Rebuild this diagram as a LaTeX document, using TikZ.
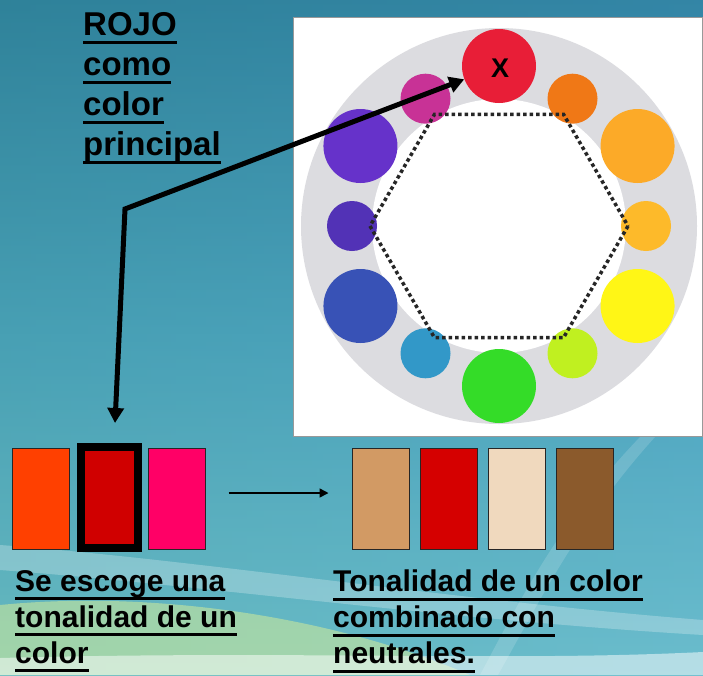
\documentclass[tikz,border=0pt]{standalone}
\usepackage{fontspec}
\setmainfont{Liberation Sans}
\usepackage{xcolor}
\usetikzlibrary{calc,arrows.meta}
\definecolor{fondoA}{RGB}{34,114,140}
\definecolor{fondoB}{RGB}{72,160,180}
\definecolor{fondoC}{RGB}{120,200,200}
\definecolor{cielo}{RGB}{84,170,215}
\definecolor{lima}{RGB}{220,240,150}
\definecolor{anillo}{RGB}{220,220,224}
\newcommand\subr[1]{\setbox0\hbox{#1}\rlap{\rule[-9pt]{\wd0}{3pt}}\box0}
\tikzset{swatch/.style={draw=black!85,line width=1pt,minimum width=57pt,minimum height=101pt,inner sep=0pt},
  chosen swatch/.style={swatch,draw=black,line width=8pt},
  big dot/.style={circle,minimum size=74pt,inner sep=0pt},
  small dot/.style={circle,minimum size=50pt,inner sep=0pt},
  caption text/.style={font=\fontsize{30}{36}\selectfont\bfseries,align=left,anchor=north west,inner sep=0pt},
  title text/.style={font=\fontsize{33}{40}\selectfont\bfseries,align=left,anchor=north west,inner sep=0pt},
  hex line/.style={draw=black!85,line width=3.5pt,dash pattern=on 3.5pt off 3pt},
  big arrow/.style={line width=5pt,line join=miter,{Triangle[width=16pt,length=15pt]}-{Triangle[width=16pt,length=15pt]}},
  small arrow/.style={line width=1.6pt,-{Triangle[width=9pt,length=9pt]}}}

\begin{document}
\begin{tikzpicture}[x=1pt,y=-1pt]
  \useasboundingbox (0,0) rectangle (703,675);
  % fondo
  \shade[top color=fondoA,bottom color=fondoC,middle color=fondoB] (0,0) rectangle (703,675);
  \shade[left color=fondoB,right color=cielo,opacity=.35] (0,0) rectangle (703,675);
  \fill[lima,opacity=.5] (0,605) .. controls (150,590) and (330,615) .. (470,675) -- (0,675) -- cycle;
  \fill[white,opacity=.25] (0,545) .. controls (200,560) and (450,600) .. (703,620) -- (703,635) .. controls (450,620) and (200,585) .. (0,570) -- cycle;
  \fill[white,opacity=.5] (0,658) .. controls (300,650) and (500,662) .. (703,652) -- (703,675) -- (0,675) -- cycle;
  \fill[white,opacity=.15] (640,437) .. controls (560,520) and (520,600) .. (480,675) -- (498,675) .. controls (540,600) and (580,520) .. (655,437) -- cycle;

  % circulo cromatico
  \fill[white,draw=black!40] (293,17) rectangle (702,436);
  \coordinate (centro) at (499,226);
  \fill[anillo] (centro) circle (198);
  \fill[white] (centro) circle (127);
  \begin{scope}[shift={(499,226)}]
    \foreach \a/\c/\n/\s/\r in {90/{rgb,255:red,232;green,30;blue,55}/rojo/big/160,
        60/{rgb,255:red,240;green,120;blue,22}/naranja/small/147,
        30/{rgb,255:red,252;green,170;blue,40}/ambar/big/160,
        0/{rgb,255:red,253;green,186;blue,42}/oro/small/147,
        330/{rgb,255:red,255;green,246;blue,22}/amarillo/big/160,
        300/{rgb,255:red,192;green,240;blue,32}/limon/small/147,
        270/{rgb,255:red,52;green,220;blue,40}/verde/big/160,
        240/{rgb,255:red,50;green,152;blue,200}/cian/small/147,
        210/{rgb,255:red,56;green,82;blue,182}/azul/big/160,
        180/{rgb,255:red,82;green,50;blue,182}/indigo/small/147,
        150/{rgb,255:red,102;green,50;blue,202}/violeta/big/160,
        120/{rgb,255:red,200;green,50;blue,150}/magenta/small/147}
      \node[\s\space dot,fill=\c] (\n) at ({-\a}:\r) {};
    \draw[hex line] (0:129) -- (60:129) -- (120:129) -- (180:129) -- (240:129) -- (300:129) -- cycle;
  \end{scope}
  \node[font=\fontsize{27}{27}\selectfont\bfseries,inner sep=0pt] (equis) at ($(rojo)+(1,2)$) {X};

  % textos
  \node[title text] (titulo) at (83,12) {\subr{ROJO}\\\subr{como}\\\subr{color}\\\subr{principal}};
  \node[caption text] (escoge) at (15,570) {\subr{Se escoge una}\\\subr{tonalidad de un}\\\subr{color}};
  \node[caption text] (neutro) at (333,570) {\subr{Tonalidad de un color}\\\subr{combinado con}\\\subr{neutrales.}};

  % muestras
  \node[swatch,fill={rgb,255:red,255;green,64;blue,0}] (naranjo) at (41,498.5) {};
  \node[chosen swatch,fill={rgb,255:red,208;green,0;blue,0}] (elegido) at (109.5,497.5) {};
  \node[swatch,fill={rgb,255:red,255;green,0;blue,102}] (rosa) at (176.5,498.5) {};
  \node[swatch,fill={rgb,255:red,210;green,154;blue,100}] (arena) at (380.5,498.5) {};
  \node[swatch,fill={rgb,255:red,213;green,0;blue,0}] (carmin) at (449,498.5) {};
  \node[swatch,fill={rgb,255:red,240;green,217;blue,190}] (crema) at (516.5,498.5) {};
  \node[swatch,fill={rgb,255:red,139;green,90;blue,44}] (cafe) at (584.5,498.5) {};

  % flechas
  \coordinate (codo) at (125,209);
  \coordinate (punta) at (115,423);
  \draw[big arrow] (punta) -- (codo) -- (rojo);
  \draw[small arrow,shorten <=23pt,shorten >=23pt] ([yshift=5.5pt]rosa.east) -- ([yshift=5.5pt]arena.west);
\end{tikzpicture}
\end{document}
